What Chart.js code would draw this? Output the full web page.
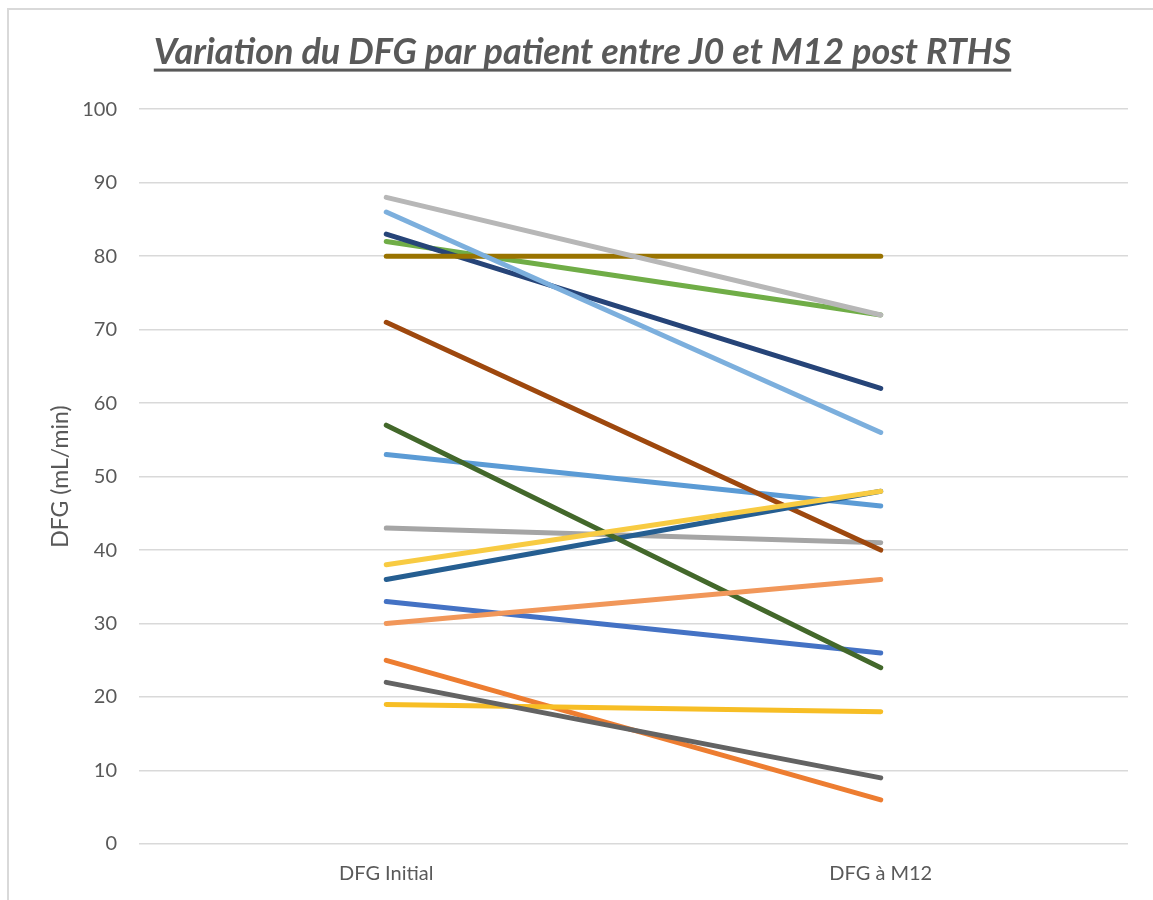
<!DOCTYPE html>
<html>
<head>
<meta charset="utf-8">
<script src="https://cdn.jsdelivr.net/npm/chart.js@4.4.1/dist/chart.umd.min.js"></script>
<style>
  html, body { margin: 0; padding: 0; background: #fff; }
  #wrap { position: relative; width: 1153px; height: 900px; }
  #frame { position: absolute; left: 7px; top: 8px; right: 0; bottom: 0; border-top: 2px solid #d9d9d9; border-left: 2px solid #d9d9d9; pointer-events: none; }
  canvas { position: absolute; left: 0; top: 0; }
</style>
</head>
<body>
<div id="wrap">
  <canvas id="chart" width="1153" height="900"></canvas>
  <div id="frame"></div>
</div>
<script>
const categories = ['DFG Initial', 'DFG à M12'];

// DFG (mL/min) par patient, J0 puis M12
const dfgInitial = [25, 33, 43, 19, 53, 82, 83, 71, 22, 80, 36, 57, 86, 30, 88, 38];
const dfgM12     = [ 6, 26, 41, 18, 46, 72, 62, 40,  9, 80, 48, 24, 56, 36, 72, 48];

const yMin = 0, yMax = 100, yStep = 10;

const colors = [
  '#ED7D31', '#4472C4', '#A5A5A5', '#F7BE25', '#5B9BD5', '#70AD47', '#264478', '#9E480E',
  '#636363', '#997300', '#255E91', '#43682B', '#7CAFDD', '#F1975A', '#B7B7B7', '#F8CB42'
];

const TEXT = '#595959';
const FONT = 'Lato, "Open Sans", sans-serif';
const TITLE_SIZE = 36;

const datasets = dfgInitial.map((v, i) => ({
  label: 'Patient ' + (i + 1),
  data: [v, dfgM12[i]],
  borderColor: colors[i],
  backgroundColor: colors[i],
  borderWidth: 5,
  borderCapStyle: 'round',
  borderJoinStyle: 'round',
  pointRadius: 0,
  tension: 0,
  fill: false,
  order: dfgInitial.length - i,   // later series on top, like Excel
}));

const underlineTitle = {
  id: 'underlineTitle',
  afterDraw(chart) {
    const tb = chart.titleBlock;
    const t = chart.options.plugins.title;
    const ctx = chart.ctx;
    ctx.save();
    ctx.font = `italic bold ${TITLE_SIZE}px ${FONT}`;
    const w = ctx.measureText(t.text).width;
    const cx = tb.left + tb.width / 2;
    const y = tb.top + t.padding.top + TITLE_SIZE * 1.2 / 2 + 16;
    ctx.fillStyle = TEXT;
    ctx.fillRect(cx - w / 2, y, w, 3);
    ctx.restore();
  }
};

new Chart(document.getElementById('chart'), {
  type: 'line',
  data: { labels: categories, datasets },
  plugins: [underlineTitle],
  options: {
    responsive: false,
    animation: false,
    layout: { padding: { left: 37, right: 25, top: 0, bottom: 0 } },
    plugins: {
      legend: { display: false },
      tooltip: { enabled: false },
      title: {
        display: true,
        text: 'Variation du DFG par patient entre J0 et M12 post RTHS',
        color: TEXT,
        font: { family: FONT, size: TITLE_SIZE, style: 'italic', weight: 'bold' },
        padding: { top: 31, bottom: 35 },
      }
    },
    scales: {
      x: {
        offset: true,
        grid: { display: false, drawTicks: false },
        border: { display: false },
        ticks: { color: TEXT, font: { family: FONT, size: 20 }, padding: 18 },
        afterFit(scale) { scale.height = 56; }
      },
      y: {
        min: yMin,
        max: yMax,
        grid: { color: '#d9d9d9', lineWidth: 1.5, drawTicks: false },
        border: { display: false },
        ticks: { stepSize: yStep, color: TEXT, font: { family: FONT, size: 20 }, padding: 22 },
        title: {
          display: true,
          text: 'DFG (mL/min)',
          color: TEXT,
          font: { family: FONT, size: 23 },
          padding: { top: 10, bottom: 0 }
        },
        afterFit(scale) { scale.width = 102; }
      }
    }
  }
});
</script>
</body>
</html>
